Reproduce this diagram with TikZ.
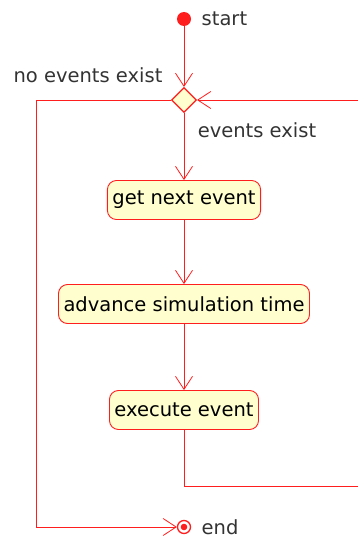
\documentclass[tikz,border=0pt]{standalone}
\usepackage{fontspec}
\setmainfont{DejaVu Sans}
\usetikzlibrary{shapes.geometric,arrows.meta,positioning}
\definecolor{umlred}{RGB}{255, 30, 30}
\definecolor{umlfill}{RGB}{254, 254, 206}
\definecolor{labelgray}{RGB}{51, 51, 51}

\begin{document}
\begin{tikzpicture}[x=1pt, y=-1pt,
    activity/.style={draw=umlred, fill=umlfill, line width=0.9pt, rounded corners=9pt, minimum height=39pt, inner xsep=5pt, font=\fontsize{19.5}{23}\selectfont},
    decision/.style={draw=umlred, fill=umlfill, line width=1.1pt, diamond, inner sep=0pt, minimum width=25pt, minimum height=25pt},
    flow/.style={draw=umlred, line width=0.8pt, -{Straight Barb[length=13pt,width=17pt]}},
    guard/.style={text=labelgray, font=\fontsize{19.5}{23}\selectfont}]
    \useasboundingbox (0,0) rectangle (358,543);

    \node[circle, fill=umlred, inner sep=0pt, minimum size=14pt] (start) at (184,19) {};
    \node[guard, right=7pt of start] (startlbl) {start};
    \node[decision] (choice) at (184,100) {};
    \node[guard] (nolbl) at (88,75) {no events exist};
    \node[guard] (yeslbl) at (257,130) {events exist};
    \node[activity] (getnext) at (184,200) {get next event};
    \node[activity] (advance) at (184,304) {advance simulation time};
    \node[activity] (execute) at (184,410) {execute event};
    \node[circle, draw=umlred, fill=white, line width=1.3pt, inner sep=0pt, minimum size=13pt,
          path picture={\fill[umlred] (path picture bounding box.center) circle (3.3pt);}] (end) at (184,527) {};
    \node[guard, right=7pt of end] (endlbl) {end};

    \coordinate (loopdown) at (361,486);
    \coordinate (loopup) at (361,100);
    \coordinate (exitleft) at (36,527);

    \draw[flow] (start) -- (choice);
    \draw[flow] (choice) -- (getnext);
    \draw[flow] (getnext) -- (advance);
    \draw[flow] (advance) -- (execute);
    \draw[flow] (execute.south) |- (loopdown) -- (loopup) -- (choice.east);
    \draw[flow] (choice.west) -| (exitleft) -- (end);
\end{tikzpicture}
\end{document}
